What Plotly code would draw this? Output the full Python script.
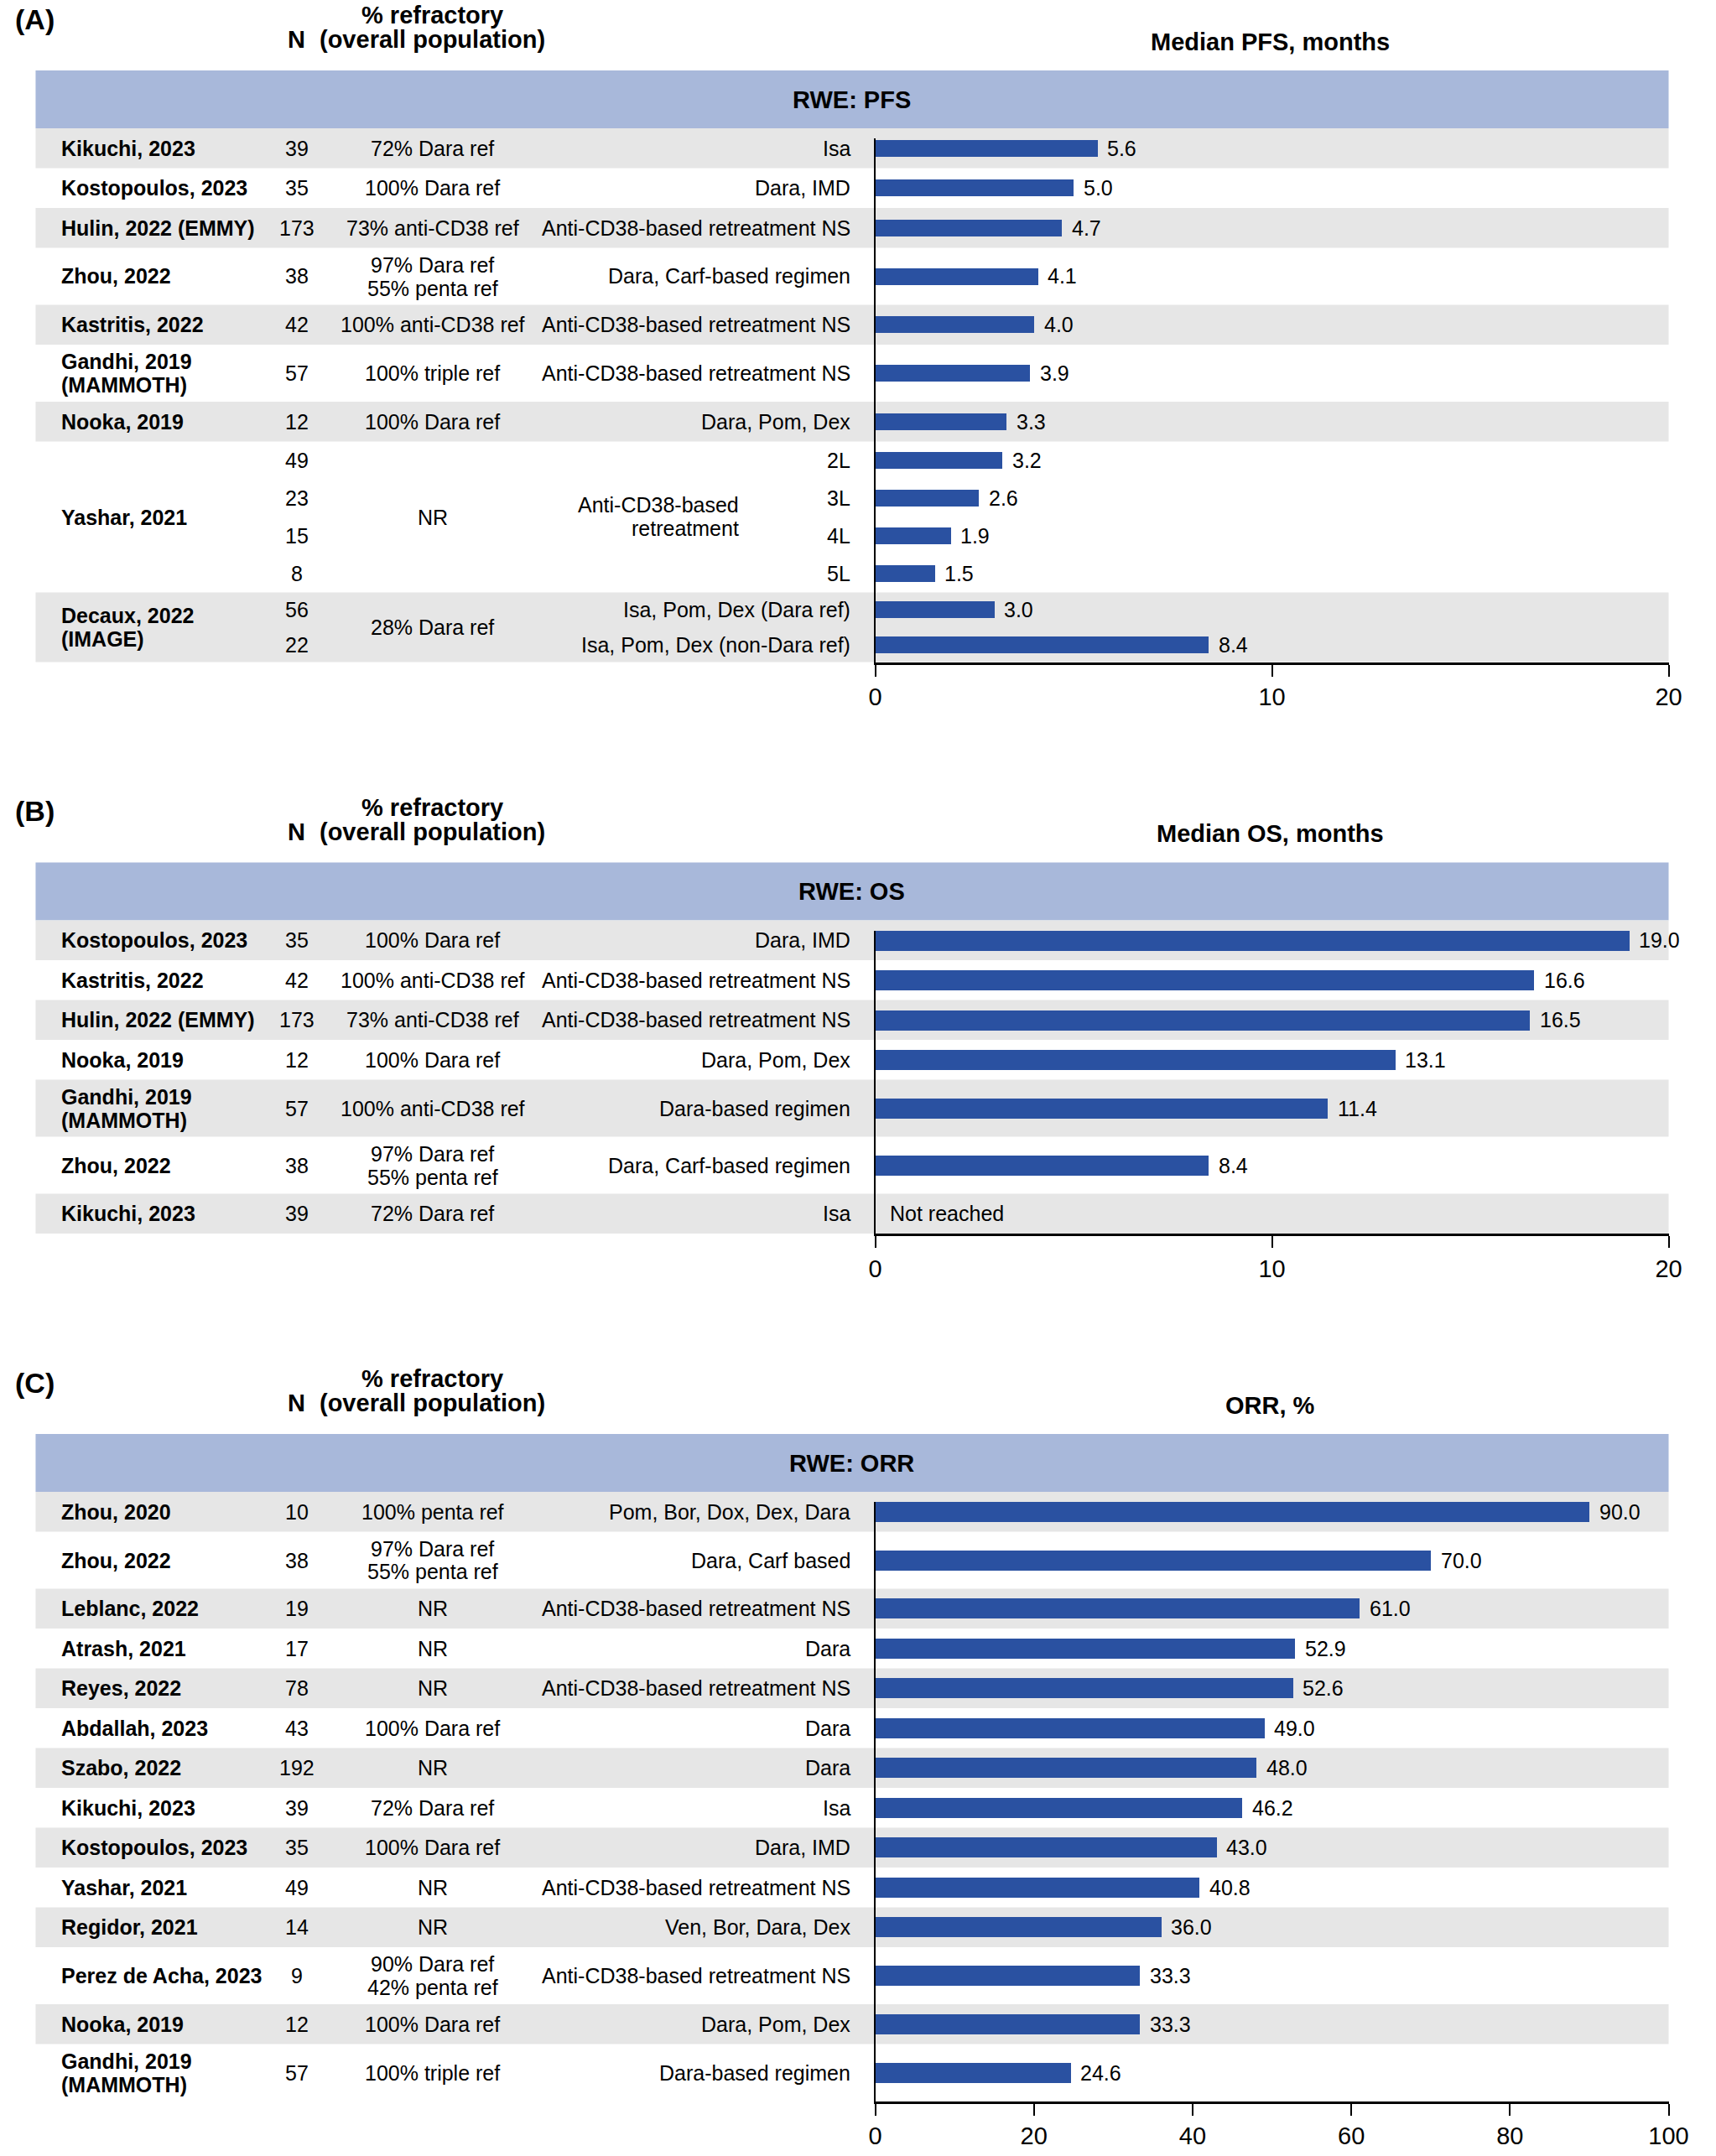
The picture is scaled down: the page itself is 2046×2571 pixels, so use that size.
import plotly.graph_objects as go

W, H = 2046, 2571

# ---------------- data ----------------
# Panel A: median PFS
pfs_study = ["Kikuchi, 2023", "Kostopoulos, 2023", "Hulin, 2022 (EMMY)", "Zhou, 2022",
             "Kastritis, 2022", "Gandhi, 2019\n(MAMMOTH)", "Nooka, 2019", "Yashar, 2021",
             "Decaux, 2022\n(IMAGE)"]
pfs_refractory = ["72% Dara ref", "100% Dara ref", "73% anti-CD38 ref", "97% Dara ref\n55% penta ref",
                  "100% anti-CD38 ref", "100% triple ref", "100% Dara ref", "NR", "28% Dara ref"]
pfs_nbars = [1, 1, 1, 1, 1, 1, 1, 4, 2]
pfs_note = ["", "", "", "", "", "", "", "Anti-CD38-based\nretreatment", ""]
pfs_n = ["39", "35", "173", "38", "42", "57", "12", "49", "23", "15", "8", "56", "22"]
pfs_regimen = ["Isa", "Dara, IMD", "Anti-CD38-based retreatment NS", "Dara, Carf-based regimen",
               "Anti-CD38-based retreatment NS", "Anti-CD38-based retreatment NS", "Dara, Pom, Dex",
               "2L", "3L", "4L", "5L", "Isa, Pom, Dex (Dara ref)", "Isa, Pom, Dex (non-Dara ref)"]
pfs_median = [5.6, 5.0, 4.7, 4.1, 4.0, 3.9, 3.3, 3.2, 2.6, 1.9, 1.5, 3.0, 8.4]

# Panel B: median OS
os_study = ["Kostopoulos, 2023", "Kastritis, 2022", "Hulin, 2022 (EMMY)", "Nooka, 2019",
            "Gandhi, 2019\n(MAMMOTH)", "Zhou, 2022", "Kikuchi, 2023"]
os_refractory = ["100% Dara ref", "100% anti-CD38 ref", "73% anti-CD38 ref", "100% Dara ref",
                 "100% anti-CD38 ref", "97% Dara ref\n55% penta ref", "72% Dara ref"]
os_n = ["35", "42", "173", "12", "57", "38", "39"]
os_regimen = ["Dara, IMD", "Anti-CD38-based retreatment NS", "Anti-CD38-based retreatment NS",
              "Dara, Pom, Dex", "Dara-based regimen", "Dara, Carf-based regimen", "Isa"]
os_median = [19.0, 16.6, 16.5, 13.1, 11.4, 8.4, None]

# Panel C: ORR
orr_study = ["Zhou, 2020", "Zhou, 2022", "Leblanc, 2022", "Atrash, 2021", "Reyes, 2022",
             "Abdallah, 2023", "Szabo, 2022", "Kikuchi, 2023", "Kostopoulos, 2023", "Yashar, 2021",
             "Regidor, 2021", "Perez de Acha, 2023", "Nooka, 2019", "Gandhi, 2019\n(MAMMOTH)"]
orr_refractory = ["100% penta ref", "97% Dara ref\n55% penta ref", "NR", "NR", "NR", "100% Dara ref",
                  "NR", "72% Dara ref", "100% Dara ref", "NR", "NR", "90% Dara ref\n42% penta ref",
                  "100% Dara ref", "100% triple ref"]
orr_n = ["10", "38", "19", "17", "78", "43", "192", "39", "35", "49", "14", "9", "12", "57"]
orr_regimen = ["Pom, Bor, Dox, Dex, Dara", "Dara, Carf based", "Anti-CD38-based retreatment NS", "Dara",
               "Anti-CD38-based retreatment NS", "Dara", "Dara", "Isa", "Dara, IMD",
               "Anti-CD38-based retreatment NS", "Ven, Bor, Dara, Dex", "Anti-CD38-based retreatment NS",
               "Dara, Pom, Dex", "Dara-based regimen"]
orr_value = [90.0, 70.0, 61.0, 52.9, 52.6, 49.0, 48.0, 46.2, 43.0, 40.8, 36.0, 33.3, 33.3, 24.6]

# ---------------- layout constants ----------------
FONT = "Liberation Sans, Arial, Helvetica, sans-serif"
BAR_COLOR = "#2A51A1"
BAND_COLOR = "#A8B8DA"
ROW_GRAY = "#E6E6E6"
X_LEFT, X_RIGHT = 35, 2013          # band / row extent (px)
AX_X0 = 1052                        # x=0 of the bar axes (px)
NAME_X, N_X, REF_X, REG_X, NOTE_X = 64, 351, 516, 1024, 889
ROW1, ROW2 = 47.5, 68               # single / two-line row heights
SUB_PITCH = {2: 41.5, 4: 45.0}
BAND_H = 69
PANEL_GAP = 239
LINE_GAP = 28

panels = [
    dict(letter="(A)", band="RWE: PFS", title="Median PFS, months", study=pfs_study,
         refr=pfs_refractory, nbars=pfs_nbars, note=pfs_note, n=pfs_n, reg=pfs_regimen,
         val=pfs_median, xmax=20, dtick=10, bar_h=20),
    dict(letter="(B)", band="RWE: OS", title="Median OS, months", study=os_study,
         refr=os_refractory, nbars=[1] * len(os_study), note=[""] * len(os_study), n=os_n,
         reg=os_regimen, val=os_median, xmax=20, dtick=10, bar_h=24),
    dict(letter="(C)", band="RWE: ORR", title="ORR, %", study=orr_study,
         refr=orr_refractory, nbars=[1] * len(orr_study), note=[""] * len(orr_study), n=orr_n,
         reg=orr_regimen, val=orr_value, xmax=100, dtick=20, bar_h=24),
]


def px(x):
    return x / W


def py(y):
    return 1 - y / H


annotations = []
shapes = []


def add_text(x, y, s, size=25, bold=False, xanchor="center", gap=LINE_GAP):
    lines = s.split("\n")
    k = len(lines)
    for i, ln in enumerate(lines):
        yy = y + (i - (k - 1) / 2) * gap
        t = f"<b>{ln}</b>" if bold else ln
        annotations.append(dict(x=px(x), y=py(yy), xref="paper", yref="paper", text=t,
                                showarrow=False, xanchor=xanchor, yanchor="middle",
                                font=dict(size=size, family=FONT, color="black")))


fig = go.Figure()
band_top = 84
for pi, p in enumerate(panels):
    sfx = "" if pi == 0 else str(pi + 1)
    xname, yname = "x" + sfx, "y" + sfx

    # column headers
    add_text(8, band_top - 61, p["letter"], size=34, bold=True, xanchor="left")
    add_text(REF_X, band_top - 66, "% refractory", size=29, bold=True)
    add_text(REF_X, band_top - 37, "(overall population)", size=29, bold=True)
    add_text(N_X, band_top - 37, "N", size=29, bold=True)
    add_text(1530, band_top - 34, p["title"], size=29, bold=True)

    # blue header band
    shapes.append(dict(type="rect", xref="paper", yref="paper", x0=px(X_LEFT), x1=px(X_RIGHT),
                       y0=py(band_top + BAND_H), y1=py(band_top), fillcolor=BAND_COLOR,
                       line=dict(width=0), layer="below"))
    add_text((X_LEFT + X_RIGHT) / 2, band_top + BAND_H / 2, p["band"], size=29, bold=True)

    rows_top = band_top + BAND_H
    y = rows_top
    bar_y = []
    bi = 0
    for ri, study in enumerate(p["study"]):
        nb = p["nbars"][ri]
        if nb == 1:
            two = ("\n" in study) or ("\n" in p["refr"][ri])
            h = ROW2 if two else ROW1
            centers = [y + h / 2]
        else:
            pitch = SUB_PITCH[nb]
            h = pitch * nb
            centers = [y + pitch * (j + 0.5) for j in range(nb)]
        if ri % 2 == 0:
            shapes.append(dict(type="rect", xref="paper", yref="paper", x0=px(X_LEFT), x1=px(X_RIGHT),
                               y0=py(y + h), y1=py(y), fillcolor=ROW_GRAY,
                               line=dict(width=0), layer="below"))
        mid = y + h / 2
        add_text(NAME_X, mid, study, xanchor="left", bold=True)
        add_text(REF_X, mid, p["refr"][ri])
        if p["note"][ri]:
            add_text(NOTE_X, mid, p["note"][ri], xanchor="right")
        for c in centers:
            add_text(N_X, c, p["n"][bi])
            add_text(REG_X, c, p["reg"][bi], xanchor="right")
            bar_y.append(c)
            bi += 1
        y += h
    rows_end = y

    # y axis measured in page pixels (reversed), so bars sit on their rows
    ytop = rows_top + 12
    fig.add_trace(go.Bar(x=p["val"], y=bar_y, orientation="h", width=p["bar_h"],
                         marker=dict(color=BAR_COLOR, line=dict(width=0)),
                         xaxis=xname, yaxis=yname, showlegend=False, hoverinfo="x"))
    for v, c in zip(p["val"], bar_y):
        if v is None:
            annotations.append(dict(x=0, y=c, xref=xname, yref=yname, text="Not reached",
                                    showarrow=False, xanchor="left", yanchor="middle", xshift=15,
                                    font=dict(size=25, family=FONT, color="black")))
        else:
            annotations.append(dict(x=v, y=c, xref=xname, yref=yname, text=f"{v:.1f}",
                                    showarrow=False, xanchor="left", yanchor="middle", xshift=10,
                                    font=dict(size=25, family=FONT, color="black")))

    fig.update_layout({
        "xaxis" + sfx: dict(domain=[px(AX_X0), px(X_RIGHT)], anchor=yname, range=[0, p["xmax"]],
                            tick0=0, dtick=p["dtick"], ticks="outside", ticklen=14, tickwidth=2,
                            tickcolor="black", showline=True, linewidth=3, linecolor="black",
                            showgrid=False, zeroline=False, fixedrange=True,
                            tickfont=dict(size=29, family=FONT, color="black")),
        "yaxis" + sfx: dict(domain=[py(rows_end), py(ytop)], anchor=xname, range=[rows_end, ytop],
                            showline=True, linewidth=2, linecolor="black", showticklabels=False,
                            ticks="", showgrid=False, zeroline=False, fixedrange=True),
    })
    band_top = rows_end + PANEL_GAP

fig.update_layout(width=W, height=H, autosize=False, margin=dict(l=0, r=0, t=0, b=0, pad=0),
                  paper_bgcolor="white", plot_bgcolor="rgba(0,0,0,0)", bargap=0,
                  annotations=annotations, shapes=shapes,
                  font=dict(family=FONT, color="black"))

fig.write_html("out.html", config={"displayModeBar": False, "responsive": False},
               post_script="document.body.style.margin='0';document.body.style.overflow='hidden';")
